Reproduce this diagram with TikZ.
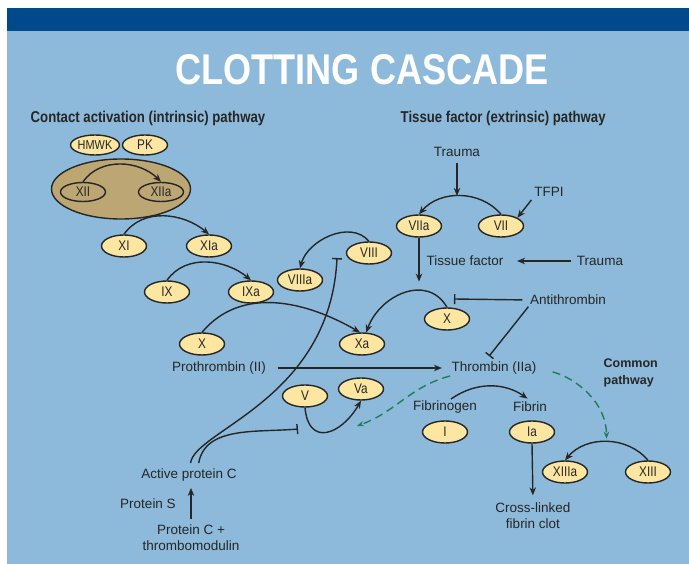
\documentclass[tikz,border=0pt]{standalone}
\usepackage{fontspec}
\setmainfont{Liberation Sans}
\newfontfamily\narrowfont{Liberation Sans}[FakeStretch=0.84]
\usetikzlibrary{shapes.geometric,arrows.meta}

\definecolor{headblue}{HTML}{004A8C}
\definecolor{skyblue}{HTML}{8DBADA}
\definecolor{factorfill}{HTML}{FCE6A1}
\definecolor{tanfill}{HTML}{BCA673}
\definecolor{inkgray}{HTML}{262626}
\definecolor{pathgreen}{HTML}{1F7D57}

\begin{document}
\begin{tikzpicture}
  [x=1pt,y=1pt,line width=1.4pt,>={Stealth[length=8pt,width=6.5pt]},
   factor/.style={ellipse,draw=inkgray,fill=factorfill,minimum width=45pt,minimum height=22pt,inner sep=0pt,text=inkgray,font=\narrowfont\fontsize{14}{15}\selectfont},
   lbl/.style={inner sep=1pt,text=inkgray,font=\fontsize{13.5}{16}\selectfont},
   head/.style={inner sep=0pt,text=inkgray,font=\narrowfont\bfseries\fontsize{15.7}{17}\selectfont},
   act/.style={->,draw=inkgray},
   blk/.style={-{Bar[width=10pt]},draw=inkgray},
   common/.style={-{Stealth[length=7pt,width=5.5pt]},draw=pathgreen,dash pattern=on 8pt off 5pt}]

  \useasboundingbox (0,0) rectangle (689,-564);
  \fill[skyblue] (7,-8) rectangle (689,-564);
  \fill[headblue] (7,-8) rectangle (689,-31);

  %%%%%%%%%%%%%%%%%%%%%% TITLES %%%%%%%%%%%%%%%%%%%%%%
  \node[text=white,font=\narrowfont\bfseries\fontsize{43}{45}\selectfont] (title) at (362,-70) {CLOTTING CASCADE};
  \node[head,anchor=west] (intr) at (30,-118) {Contact activation (intrinsic) pathway};
  \node[head,anchor=west] (extr) at (400,-118) {Tissue factor (extrinsic) pathway};

  %%%%%%%%%%%%%%%%%%%%%% INTRINSIC %%%%%%%%%%%%%%%%%%%%%%
  \node[factor,minimum height=20pt,font=\narrowfont\fontsize{13}{14}\selectfont] (hmwk) at (95,-145) {HMWK};
  \node[factor,minimum height=20pt] (pk) at (145,-145) {PK};
  \node[factor,fill=tanfill,minimum width=139pt,minimum height=60pt] (contact) at (121,-189) {};
  \node[factor,fill=tanfill,minimum height=19pt] (f12) at (83,-192) {XII};
  \node[factor,fill=tanfill,minimum height=19pt] (f12a) at (161,-192) {XIIa};
  \node[factor] (f11) at (124,-246) {XI};
  \node[factor] (f11a) at (209,-246) {XIa};
  \node[factor] (f9) at (167,-292) {IX};
  \node[factor] (f9a) at (251,-292) {IXa};
  \node[factor] (f8a) at (300,-280) {VIIIa};
  \node[factor] (f8) at (369,-253) {VIII};
  \node[factor] (f10) at (202,-344) {X};
  \node[factor] (f10a) at (362,-344) {Xa};

  %%%%%%%%%%%%%%%%%%%%%% EXTRINSIC %%%%%%%%%%%%%%%%%%%%%%
  \node[lbl] (trauma1) at (457,-152) {Trauma};
  \node[lbl] (tfpi) at (549,-192) {TFPI};
  \node[factor] (f7a) at (419,-226) {VIIa};
  \node[factor] (f7) at (501,-226) {VII};
  \node[lbl] (tissue) at (465,-261) {Tissue factor};
  \node[lbl] (trauma2) at (600,-261) {Trauma};
  \node[lbl] (antithr) at (568,-300) {Antithrombin};
  \node[factor] (f10x) at (447,-319) {X};

  %%%%%%%%%%%%%%%%%%%%%% COMMON %%%%%%%%%%%%%%%%%%%%%%
  \node[lbl] (prothr) at (219,-368) {Prothrombin (II)};
  \node[lbl] (thromb) at (494,-368) {Thrombin (IIa)};
  \node[lbl,anchor=north west,align=left,font=\bfseries\fontsize{12.5}{17}\selectfont] (common) at (602,-357) {Common\\pathway};
  \node[factor] (f5) at (305,-396) {V};
  \node[factor] (f5a) at (361,-389) {Va};
  \node[lbl] (fibrinogen) at (445,-407) {Fibrinogen};
  \node[lbl] (fibrin) at (530,-407) {Fibrin};
  \node[factor] (f1) at (445,-432) {I};
  \node[factor] (f1a) at (532,-432) {Ia};
  \node[factor] (f13a) at (565,-472) {XIIIa};
  \node[factor] (f13) at (648,-472) {XIII};
  \node[lbl,align=center] (clot) at (533,-516) {Cross-linked\\fibrin clot};
  \node[lbl] (apc) at (189,-475) {Active protein C};
  \node[lbl] (prots) at (148,-504) {Protein S};
  \node[lbl,align=center] (protc) at (191,-538) {Protein C +\\thrombomodulin};

  \coordinate (blkx) at (454,-299);
  \coordinate (blk8) at (337,-258);
  \coordinate (blk5) at (298,-429);
  \coordinate (va5) at (357,-426);

  %%%%%%%%%%%%%%%%%%%%%% CONNECTORS %%%%%%%%%%%%%%%%%%%%%%
  \draw[act] (f12.north) to[out=55,in=135] (f12a.north);
  \foreach \fromf/\tof in {f11/f11a,f9/f9a}
    \draw[act] (\fromf.north) to[out=55,in=140] (\tof.north);
  \draw[act] (f8.north) to[out=130,in=75] (f8a.north);
  \draw[act] (f10.north) to[out=50,in=150] (f10a.100);

  \draw[act] (f7.north) to[out=130,in=50] coordinate[pos=.5] (peak7) (f7a.north);
  \draw[act,shorten <=5pt] (trauma1.south) -- (trauma1.south |- peak7);
  \draw[act,shorten <=2pt] (tfpi.south west) -- (f7.north east);
  \draw[act] (f10x.north) to[out=120,in=70,looseness=1.2] coordinate[pos=.4] (peak10) (f10a.70);
  \draw[act,shorten >=9pt] (f7a.south) -- (f7a.south |- peak10);
  \draw[act,shorten <=4pt,shorten >=12pt] (trauma2.west) -- (tissue.east);
  \draw[blk,shorten <=6pt] (antithr.west) -- (blkx);
  \draw[blk,shorten >=5pt] (antithr.south west) -- ([xshift=-8pt]thromb.north);

  \draw[act,shorten <=10pt,shorten >=8pt] (prothr.east) -- (thromb.west);
  \draw[act] (f5.south) to[out=-85,in=-120,looseness=1.8] (f5a.south);
  \draw[act,shorten >=3pt] ([xshift=6pt]fibrinogen.north) to[out=35,in=145] (fibrin.north);
  \draw[act,shorten >=6pt] (f1a.south) -- (clot.north);
  \draw[act] (f13.north) to[out=130,in=50] coordinate[pos=.5] (peak13) (f13a.north);

  \draw[common] (thromb.south west) to[out=195,in=20] (va5);
  \draw[common,shorten <=15pt,shorten >=3pt] (thromb.east) to[out=-15,in=90] (peak13);

  \draw[blk,shorten <=4pt] ([xshift=1pt]apc.north) .. controls (195,-430) and (330,-400) .. (blk8);
  \draw[blk,shorten <=4pt] ([xshift=9pt]apc.north) to[out=80,in=185] (blk5);
  \draw[act,shorten <=4pt,shorten >=5pt] (protc.north) -- (protc.north |- apc.south);

\end{tikzpicture}
\end{document}
